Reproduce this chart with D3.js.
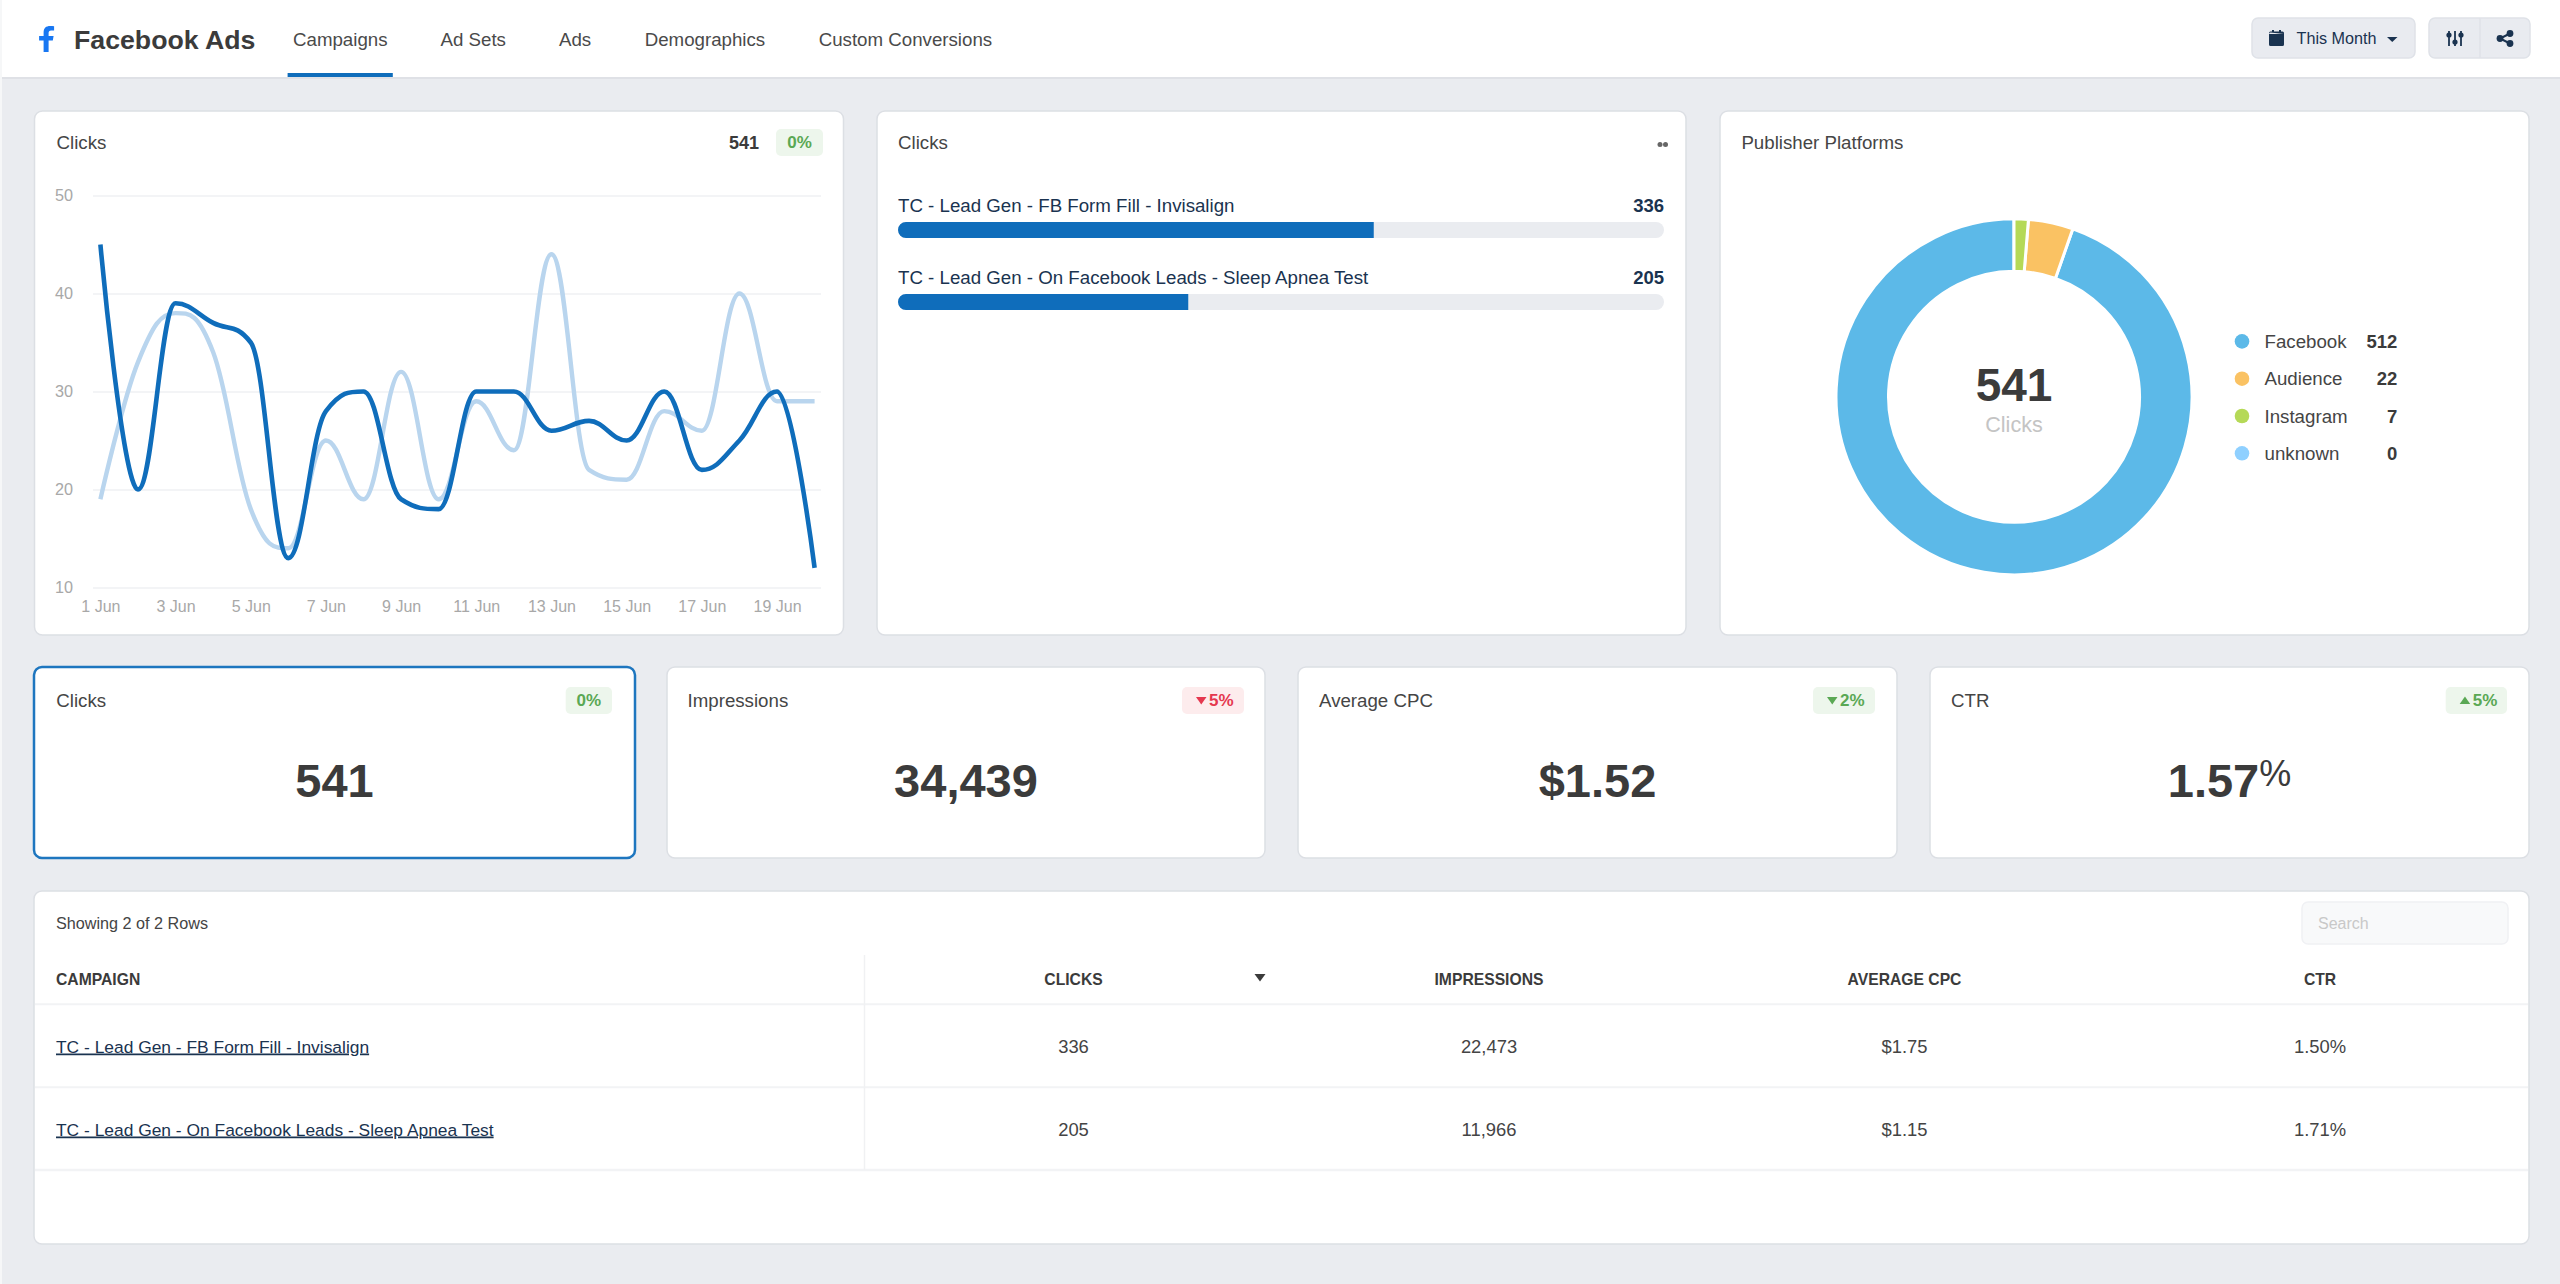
<!DOCTYPE html>
<html>
<head>
<meta charset="utf-8">
<title>Facebook Ads</title>
<script src="https://cdnjs.cloudflare.com/ajax/libs/d3/7.8.5/d3.min.js"></script>
<style>
html,body{margin:0;padding:0;background:#eaecf0;overflow:hidden}
svg{display:block}
text{font-family:"Liberation Sans",Arial,sans-serif}
</style>
</head>
<body>
<svg id="root" width="2560" height="1284"></svg>
<script>
const tabLabels = ["Campaigns","Ad Sets","Ads","Demographics","Custom Conversions"];
const days = ["1 Jun","2 Jun","3 Jun","4 Jun","5 Jun","6 Jun","7 Jun","8 Jun","9 Jun","10 Jun","11 Jun","12 Jun","13 Jun","14 Jun","15 Jun","16 Jun","17 Jun","18 Jun","19 Jun","20 Jun"];
const dayTicks = ["1 Jun","3 Jun","5 Jun","7 Jun","9 Jun","11 Jun","13 Jun","15 Jun","17 Jun","19 Jun"];
const valueTicks = [10,20,30,40,50];
const clicksCurrent = [45,20,39,37,35,13,28,30,19,18,30,30,26,27,25,30,22,25,30,12];
const clicksPrevious = [19,33,38,34,18,14,25,19,32,19,29,24,44,22,21,28,26,40,29,29];
const campaigns = ["TC - Lead Gen - FB Form Fill - Invisalign","TC - Lead Gen - On Facebook Leads - Sleep Apnea Test"];
const campaignClicks = [336,205];
const campaignImpressions = ["22,473","11,966"];
const campaignCpc = ["$1.75","$1.15"];
const campaignCtr = ["1.50%","1.71%"];
const platforms = ["Facebook","Audience","Instagram","unknown"];
const platformClicks = [512,22,7,0];
const platformColors = ["#5cb9e8","#fac263","#b5d957","#8fd0ff"];
const totalClicks = 541;
const kpiTitles = ["Clicks","Impressions","Average CPC","CTR"];
const kpiValues = ["541","34,439","$1.52","1.57"];
const kpiChanges = ["0%","5%","2%","5%"];
const kpiArrows = ["none","down","down","up"];
const kpiGood = [true,false,true,true];
const tableColumns = ["CLICKS","IMPRESSIONS","AVERAGE CPC","CTR"];

const svg = d3.select("#root");
const DARK = "#3b3b3b", TITLE = "#454545", NAVY = "#1a3350", BLUE = "#0f6dbb";

function txt(p, s, x, y, size, fill, opts){
  opts = opts || {};
  return p.append("text").attr("x",x).attr("y",y).attr("font-size",size).attr("fill",fill)
    .attr("text-anchor",opts.anchor||"start").attr("font-weight",opts.weight||"normal").text(s);
}
function card(x0,y0,x1,y1,stroke,sw){
  svg.append("rect").attr("x",x0).attr("y",y0).attr("width",x1-x0).attr("height",y1-y0).attr("rx",8)
    .attr("fill","#fff").attr("stroke",stroke||"#dcdfe4").attr("stroke-width",sw||1.5);
}

// Page background and header
svg.append("rect").attr("width",2560).attr("height",1284).attr("fill","#eaecf0");
svg.append("rect").attr("width",2560).attr("height",77).attr("fill","#fff");
svg.append("rect").attr("y",77).attr("width",2560).attr("height",2).attr("fill","#dfe1e6");
svg.append("rect").attr("width",2).attr("height",1284).attr("fill","#f6f7f8");
svg.append("path").attr("transform","translate(38.6,26)")
  .attr("d","M5,26 V14.5 H0.5 V10 H5 V6.5 C5,2 7.5,0 11.5,0 C13,0 14.5,0.1 15.5,0.3 V4.5 H12.5 C10.7,4.5 10,5.4 10,7 V10 H15 L14.2,14.5 H10 V26 Z")
  .attr("fill","#1877f2");
txt(svg,"Facebook Ads",74,49,26.7,DARK,{weight:"bold"});
const tabX = [293,440.5,559,644.7,818.7];
tabLabels.forEach((t,i)=>txt(svg,t,tabX[i],46,18.7,"#4a4a4a"));
svg.append("rect").attr("x",287.6).attr("y",73).attr("width",105.2).attr("height",4).attr("fill",BLUE);

// Header buttons
function btn(x0,x1){svg.append("rect").attr("x",x0).attr("y",18).attr("width",x1-x0).attr("height",40).attr("rx",6).attr("fill","#e9ebf0").attr("stroke","#dfe2e8").attr("stroke-width",1.5);}
btn(2252,2415); btn(2429,2530);
svg.append("line").attr("x1",2480).attr("x2",2480).attr("y1",18).attr("y2",58).attr("stroke","#dfe2e8").attr("stroke-width",1.5);
svg.append("path").attr("d","M2269,34 h15 v10.5 a1.5,1.5 0 0 1 -1.5,1.5 h-12 a1.5,1.5 0 0 1 -1.5,-1.5 Z M2270.5,32.5 a1.5,1.5 0 0 0 -1.5,1.5 v-1 a1.5,1.5 0 0 1 1.5,-1.5 h1.5 v-1.5 h2 v1.5 h5 v-1.5 h2 v1.5 h1.5 a1.5,1.5 0 0 1 1.5,1.5 v1 Z").attr("fill",NAVY);
txt(svg,"This Month",2296.5,44,16.2,NAVY);
svg.append("path").attr("d","M2387,37 h10.5 l-5.25,5 Z").attr("fill",NAVY);
[[2449,35],[2455,42],[2461,35]].forEach(d=>{
  svg.append("line").attr("x1",d[0]).attr("x2",d[0]).attr("y1",31).attr("y2",46).attr("stroke",NAVY).attr("stroke-width",1.8);
  svg.append("circle").attr("cx",d[0]).attr("cy",d[1]).attr("r",2.6).attr("fill",NAVY);
});
svg.append("path").attr("d","M2510,33.5 L2500,38.5 L2510,43.5").attr("fill","none").attr("stroke",NAVY).attr("stroke-width",2);
[[2510,33.5],[2500,38.5],[2510,43.5]].forEach(d=>svg.append("circle").attr("cx",d[0]).attr("cy",d[1]).attr("r",3.4).attr("fill",NAVY));

// ---- Card 1: line chart
card(34.5,111,843.5,635);
txt(svg,"Clicks",56.5,149,18.7,TITLE);
txt(svg,String(totalClicks),759,149,18,DARK,{anchor:"end",weight:"bold"});
svg.append("rect").attr("x",776).attr("y",129).attr("width",47).attr("height",27).attr("rx",5).attr("fill","#edf6ec");
txt(svg,kpiChanges[0],799.5,148,17,"#5aa854",{anchor:"middle",weight:"bold"});

const xLine = d3.scalePoint().domain(days).range([100.4,814.6]);
const yLine = d3.scaleLinear().domain([10,50]).range([587.5,195.5]);
const gy = svg.append("g").attr("transform","translate(93,0)")
  .call(d3.axisLeft(yLine).tickValues(valueTicks).tickSizeInner(-728).tickSizeOuter(0).tickPadding(20));
gy.select(".domain").remove();
gy.selectAll("line").attr("stroke","#f3f4f6").attr("stroke-width",2);
gy.selectAll("text").attr("font-size",16.2).attr("fill","#a8a8a8").attr("font-family","Liberation Sans");
const gx = svg.append("g").attr("transform","translate(0,587.5)")
  .call(d3.axisBottom(xLine).tickValues(dayTicks).tickSize(0).tickPadding(13));
gx.select(".domain").remove();
gx.selectAll("text").attr("font-size",16).attr("fill","#a8a8a8").attr("font-family","Liberation Sans");

// Spline with false-extreme protection, handles at 0.4 of the neighbouring gap
function splineCurve(context){
  let pts;
  return {
    lineStart(){pts=[];},
    point(x,y){pts.push([+x,+y]);},
    lineEnd(){
      const ctrl = pts.map((p,i)=>{
        if(i===0||i===pts.length-1) return {l:p,r:p};
        const a=pts[i-1], b=pts[i+1], k=1.5, d=2.5;
        const lx=(k*p[0]+a[0])/d, rx=(k*p[0]+b[0])/d;
        let ly=(k*p[1]+a[1])/d, ry=(k*p[1]+b[1])/d;
        const c=((ry-ly)*(rx-p[0]))/(rx-lx)+p[1]-ry;
        ly+=c; ry+=c;
        if(ly>a[1]&&ly>p[1]){ly=Math.max(a[1],p[1]);ry=2*p[1]-ly;}
        else if(ly<a[1]&&ly<p[1]){ly=Math.min(a[1],p[1]);ry=2*p[1]-ly;}
        if(ry>b[1]&&ry>p[1]){ry=Math.max(b[1],p[1]);ly=2*p[1]-ry;}
        else if(ry<b[1]&&ry<p[1]){ry=Math.min(b[1],p[1]);ly=2*p[1]-ry;}
        return {l:[lx,ly],r:[rx,ry]};
      });
      pts.forEach((p,i)=>{
        if(i===0) context.moveTo(p[0],p[1]);
        else context.bezierCurveTo(ctrl[i-1].r[0],ctrl[i-1].r[1],ctrl[i].l[0],ctrl[i].l[1],p[0],p[1]);
      });
    }
  };
}
const lineGen = d3.line().x((d,i)=>xLine(days[i])).y(d=>yLine(d)).curve(splineCurve);
svg.append("path").datum(clicksPrevious).attr("d",lineGen).attr("fill","none").attr("stroke","#b9d5ee").attr("stroke-width",4.4);
svg.append("path").datum(clicksCurrent).attr("d",lineGen).attr("fill","none").attr("stroke",BLUE).attr("stroke-width",4.6);

// ---- Card 2: bar list
card(877,111,1686,635);
txt(svg,"Clicks",898,149,18.7,TITLE);
[1660,1665.5].forEach(x=>svg.append("circle").attr("cx",x).attr("cy",144.5).attr("r",2.5).attr("fill","#666"));
const xBar = d3.scaleLinear().domain([0,totalClicks]).range([898,1664]);
const barRowsY = d3.scalePoint().domain(campaigns).range([222,294]);
svg.append("clipPath").attr("id","barClip").selectAll("rect").data(campaigns).join("rect")
  .attr("x",xBar(0)).attr("y",d=>barRowsY(d)).attr("width",xBar(totalClicks)-xBar(0)).attr("height",16).attr("rx",8);
svg.selectAll("rect.track").data(campaigns).join("rect").attr("class","track")
  .attr("x",xBar(0)).attr("y",d=>barRowsY(d)).attr("width",xBar(totalClicks)-xBar(0)).attr("height",16).attr("rx",8).attr("fill","#eaecf0");
svg.append("g").attr("clip-path","url(#barClip)").selectAll("rect").data(campaigns).join("rect")
  .attr("x",xBar(0)).attr("y",d=>barRowsY(d)).attr("width",(d,i)=>xBar(campaignClicks[i])-xBar(0)).attr("height",16).attr("fill",BLUE);
campaigns.forEach((c,i)=>{
  txt(svg,c,898,barRowsY(c)-10.5,18.7,NAVY);
  txt(svg,String(campaignClicks[i]),1664,barRowsY(c)-10.5,18.5,NAVY,{anchor:"end",weight:"bold"});
});

// ---- Card 3: donut
card(1720,111,2529,635);
txt(svg,"Publisher Platforms",1741.4,149,18.7,TITLE);
const donut = svg.append("g").attr("transform","translate(2014,396.8)");
const pie = d3.pie().value(d=>d.v).sort((a,b)=>a.v-b.v);
const slices = pie(platforms.map((n,i)=>({n,v:platformClicks[i],c:platformColors[i]})));
const arc = d3.arc().innerRadius(125.5).outerRadius(178);
donut.selectAll("path").data(slices.filter(d=>d.data.v>0)).join("path")
  .attr("d",arc).attr("fill",d=>d.data.c).attr("stroke","#fff").attr("stroke-width",3);
txt(svg,String(totalClicks),2014,400.5,46,DARK,{anchor:"middle",weight:"bold"});
txt(svg,"Clicks",2014,431.5,21.6,"#c4c4c4",{anchor:"middle"});
const legY = d3.scalePoint().domain(platforms).range([341.4,453.3]);
platforms.forEach((n,i)=>{
  svg.append("circle").attr("cx",2242).attr("cy",legY(n)).attr("r",7.3).attr("fill",platformColors[i]);
  txt(svg,n,2264.5,legY(n)+6.5,18.7,TITLE);
  txt(svg,String(platformClicks[i]),2397.3,legY(n)+6.5,18.5,DARK,{anchor:"end",weight:"bold"});
});

// ---- KPI cards
const kpiX = [[34,635],[667,1265],[1298,1897],[1930,2529]];
const kpiTitleX = [56.3,687.5,1319,1951];
const kpiBadge = [[565.7,612],[1182,1244],[1813,1875],[2445.7,2507]];
kpiTitles.forEach((t,i)=>{
  const [x0,x1]=kpiX[i], cx=(x0+x1)/2;
  if(i===0) card(x0,667,x1,858,"#1e76bf",2.5); else card(x0,667,x1,858);
  txt(svg,t,kpiTitleX[i],707,18.7,TITLE);
  const [b0,b1]=kpiBadge[i];
  const col=kpiGood[i]?"#5aa854":"#e5384f";
  svg.append("rect").attr("x",b0).attr("y",687).attr("width",b1-b0).attr("height",27).attr("rx",5).attr("fill",kpiGood[i]?"#edf6ec":"#fdeced");
  if(kpiArrows[i]==="none"){
    txt(svg,kpiChanges[i],(b0+b1)/2,706,17,col,{anchor:"middle",weight:"bold"});
  } else {
    const tx=b0+14, w=10.5;
    const d=kpiArrows[i]==="down"?`M${tx},697 h${w} l${-w/2},7.5 Z`:`M${tx},704 h${w} l${-w/2},-7.5 Z`;
    svg.append("path").attr("d",d).attr("fill",col);
    txt(svg,kpiChanges[i],tx+13,706,17,col,{weight:"bold"});
  }
  const big=txt(svg,kpiValues[i],cx,796.5,47,DARK,{anchor:"middle",weight:"bold"});
  if(t==="CTR") big.append("tspan").attr("dy",-11).attr("font-size",36).attr("font-weight","normal").text("%");
});

// ---- Table
card(34,891,2529,1244);
txt(svg,"Showing 2 of 2 Rows",56,929,16.2,"#444");
svg.append("rect").attr("x",2302).attr("y",902).attr("width",206).attr("height",42).attr("rx",6).attr("fill","#f8f9fa").attr("stroke","#f0f1f4").attr("stroke-width",1.5);
txt(svg,"Search",2318,929,16,"#c8c8c8");
const colX=[1073.5,1489,1904.5,2320];
txt(svg,"CAMPAIGN",56,985,15.7,DARK,{weight:"bold"});
tableColumns.forEach((c,i)=>txt(svg,c,colX[i],985,15.7,DARK,{anchor:"middle",weight:"bold"}));
svg.append("path").attr("d","M1254.5,974 h11 l-5.5,7.5 Z").attr("fill",DARK);
[1004.3,1087.3,1170].forEach(y=>svg.append("line").attr("x1",35).attr("x2",2528).attr("y1",y).attr("y2",y).attr("stroke","#f2f3f5").attr("stroke-width",y===1170?2.5:2));
svg.append("line").attr("x1",864.5).attr("x2",864.5).attr("y1",955).attr("y2",1170).attr("stroke","#f0f1f3").attr("stroke-width",1.5);
const rowY=[1052.5,1135.5];
campaigns.forEach((c,i)=>{
  txt(svg,c,56,rowY[i],17.4,NAVY).style("text-decoration","underline");
  [String(campaignClicks[i]),campaignImpressions[i],campaignCpc[i],campaignCtr[i]].forEach((v,j)=>
    txt(svg,v,colX[j],rowY[i],18.4,"#444",{anchor:"middle"}));
});
</script>
</body>
</html>
